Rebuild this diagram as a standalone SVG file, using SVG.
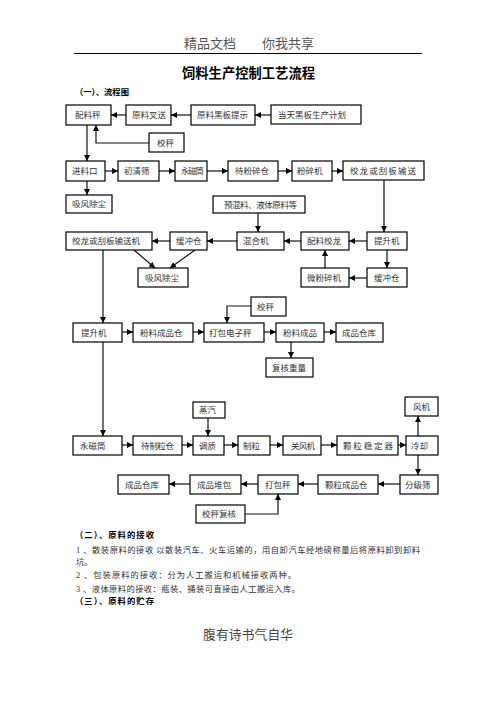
<svg xmlns="http://www.w3.org/2000/svg" width="496" height="702" viewBox="0 0 496 702">
<defs>
<style>
.bx{fill:#fff;stroke:#000;stroke-width:1.2}
.t{font-family:"Noto Sans CJK SC","Liberation Sans",sans-serif;font-size:8.5px;fill:#333}
.c{fill:none;stroke:#111;stroke-width:1.2;marker-end:url(#ah)}
.p{font-family:"Liberation Serif","Noto Sans CJK SC",serif;font-size:8.3px;fill:#333}
.h{font-family:"Noto Sans CJK SC",sans-serif;font-size:8.3px;font-weight:bold;fill:#000}
</style>
<marker id="ah" markerUnits="userSpaceOnUse" markerWidth="7" markerHeight="6" refX="6" refY="3" orient="auto">
<path d="M0,0 L6,3 L0,6 z" fill="#000"/>
</marker>
</defs>
<rect width="496" height="702" fill="#fff"/>

<!-- header -->
<g id="header">
<text x="184" y="47.5" font-family="Noto Sans CJK SC,sans-serif" font-size="13" fill="#555">精品文档</text>
<text x="262" y="47.5" font-family="Noto Sans CJK SC,sans-serif" font-size="13" fill="#555">你我共享</text>
<line x1="74" y1="53.5" x2="422" y2="53.5" stroke="#000" stroke-width="1"/>
<text x="182" y="77.5" font-family="Noto Sans CJK SC,sans-serif" font-size="13.3" font-weight="bold" fill="#000" textLength="133">饲料生产控制工艺流程</text>
<text x="75" y="95.3" class="h">（一）、流程图</text>
</g>

<!-- connectors -->
<g id="connectors">
<path class="c" d="M191,115 H171"/>
<path class="c" d="M271,115 H255"/>
<path class="c" d="M126,115 H111"/>
<path class="c" d="M149,143 H96 V125"/>
<path class="c" d="M87,125 V161"/>
<path class="c" d="M105,171 H118"/>
<path class="c" d="M159,171 H175"/>
<path class="c" d="M207,171 H228"/>
<path class="c" d="M278,171 H292"/>
<path class="c" d="M332,171 H343"/>
<path class="c" d="M87,181 V195"/>
<path class="c" d="M384,180 V232"/>
<path class="c" d="M258,213 V232"/>
<path class="c" d="M367,241 H349"/>
<path class="c" d="M301,241 H284"/>
<path class="c" d="M237,241 H207"/>
<path class="c" d="M170,241 H152"/>
<path class="c" d="M387,250 V268"/>
<path class="c" d="M367,278 H349"/>
<path class="c" d="M325,268 V250"/>
<path class="c" d="M134,250 L155,268"/>
<path class="c" d="M195,250 L170,268"/>
<path class="c" d="M103,250 V323"/>
<path class="c" d="M122,332 H133"/>
<path class="c" d="M193,332 H204"/>
<path class="c" d="M251,306 H227 V323"/>
<path class="c" d="M264,332 H276"/>
<path class="c" d="M324,332 H336"/>
<path class="c" d="M291,342 V358"/>
<path class="c" d="M103,342 V436"/>
<path class="c" d="M208,418 V436"/>
<path class="c" d="M122,445 H133"/>
<path class="c" d="M182,445 H193"/>
<path class="c" d="M224,445 H238"/>
<path class="c" d="M270,445 H283"/>
<path class="c" d="M321,445 H337"/>
<path class="c" d="M398,445 H406"/>
<path class="c" d="M418,436 V416"/>
<path class="c" d="M418,455 V475"/>
<path class="c" d="M400,484 H378"/>
<path class="c" d="M318,484 H298"/>
<path class="c" d="M258,484 H241"/>
<path class="c" d="M190,484 H169"/>
<path class="c" d="M245,514 H278 V494"/>
</g>

<!-- nodes -->
<g id="n-peiliaocheng"><rect class="bx" x="66" y="105" width="45" height="20"/><text class="t" x="75" y="118">配料秤</text></g>
<g id="n-yuanliaochasong"><rect class="bx" x="126" y="105" width="45" height="20"/><text class="t" x="132" y="118">原料叉送</text></g>
<g id="n-heibantishi"><rect class="bx" x="191" y="105" width="64" height="20"/><text class="t" x="197" y="118">原料黑板提示</text></g>
<g id="n-jihua"><rect class="bx" x="271" y="105" width="90" height="19"/><text class="t" x="278" y="117.5">当天黑板生产计划</text></g>
<g id="n-jiaocheng1"><rect class="bx" x="149" y="133" width="35" height="19"/><text class="t" x="157" y="145.5">校秤</text></g>

<g id="n-jinliaokou"><rect class="bx" x="66" y="161" width="39" height="20"/><text class="t" x="72" y="174">进料口</text></g>
<g id="n-chuqingshai"><rect class="bx" x="118" y="161" width="41" height="20"/><text class="t" x="124" y="174">初清筛</text></g>
<g id="n-yongcitong1"><rect class="bx" x="175" y="161" width="32" height="20"/><text class="t" x="181" y="174" textLength="23">永磁筒</text></g>
<g id="n-daifensuicang"><rect class="bx" x="228" y="161" width="50" height="20"/><text class="t" x="235" y="174">待粉碎仓</text></g>
<g id="n-fensuiji"><rect class="bx" x="292" y="161" width="40" height="20"/><text class="t" x="297" y="174">粉碎机</text></g>
<g id="n-jiaolong1"><rect class="bx" x="343" y="161" width="81" height="19"/><text class="t" x="350" y="173.5" textLength="66">绞龙或刮板输送</text></g>
<g id="n-xifeng1"><rect class="bx" x="66" y="195" width="46" height="18"/><text class="t" x="72" y="207">吸风除尘</text></g>
<g id="n-yuhunliao"><rect class="bx" x="213" y="196" width="92" height="17"/><text class="t" x="224" y="207.5" textLength="73">预混料、液体原料等</text></g>

<g id="n-jiaolong2"><rect class="bx" x="66" y="232" width="86" height="18"/><text class="t" x="72" y="244">绞龙或刮板输送机</text></g>
<g id="n-huanchong1"><rect class="bx" x="170" y="232" width="37" height="18"/><text class="t" x="176" y="244">缓冲仓</text></g>
<g id="n-hunheji"><rect class="bx" x="237" y="232" width="47" height="18"/><text class="t" x="243" y="244">混合机</text></g>
<g id="n-peiliaojiaolong"><rect class="bx" x="301" y="232" width="48" height="18"/><text class="t" x="307" y="244">配料绞龙</text></g>
<g id="n-tisheng1"><rect class="bx" x="367" y="232" width="40" height="18"/><text class="t" x="374" y="244">提升机</text></g>
<g id="n-xifeng2"><rect class="bx" x="138" y="268" width="50" height="19"/><text class="t" x="145" y="280.5">吸风除尘</text></g>
<g id="n-weifensui"><rect class="bx" x="301" y="268" width="48" height="19"/><text class="t" x="307" y="280.5">微粉碎机</text></g>
<g id="n-huanchong2"><rect class="bx" x="367" y="268" width="40" height="19"/><text class="t" x="374" y="280.5">缓冲仓</text></g>
<g id="n-jiaocheng2"><rect class="bx" x="251" y="297" width="35" height="19"/><text class="t" x="257" y="309.5">校秤</text></g>

<g id="n-tisheng2"><rect class="bx" x="73" y="323" width="49" height="19"/><text class="t" x="81" y="335.5">提升机</text></g>
<g id="n-fenliaochengpincang"><rect class="bx" x="133" y="323" width="60" height="19"/><text class="t" x="140" y="335.5">粉料成品仓</text></g>
<g id="n-dabaodianzicheng"><rect class="bx" x="204" y="323" width="60" height="19"/><text class="t" x="209" y="335.5">打包电子秤</text></g>
<g id="n-fenliaochengpin"><rect class="bx" x="276" y="323" width="48" height="19"/><text class="t" x="283" y="335.5">粉料成品</text></g>
<g id="n-chengpincangku1"><rect class="bx" x="336" y="323" width="47" height="19"/><text class="t" x="342" y="335.5">成品仓库</text></g>
<g id="n-fuhezhongliang"><rect class="bx" x="266" y="358" width="47" height="19"/><text class="t" x="272" y="370.5">复核重量</text></g>

<g id="n-fengji"><rect class="bx" x="405" y="397" width="33" height="19"/><text class="t" x="413" y="409.5">风机</text></g>
<g id="n-zhengqi"><rect class="bx" x="193" y="402" width="32" height="16"/><text class="t" x="199" y="413">蒸汽</text></g>

<g id="n-yongcitong2"><rect class="bx" x="73" y="436" width="49" height="19"/><text class="t" x="80" y="448.5">永磁筒</text></g>
<g id="n-daizhilicang"><rect class="bx" x="133" y="436" width="49" height="19"/><text class="t" x="141" y="448.5" textLength="33">待制粒仓</text></g>
<g id="n-tiaozhi"><rect class="bx" x="193" y="436" width="31" height="19"/><text class="t" x="199" y="448.5">调质</text></g>
<g id="n-zhili"><rect class="bx" x="238" y="436" width="32" height="19"/><text class="t" x="243" y="448.5">制粒</text></g>
<g id="n-guanfengji"><rect class="bx" x="283" y="436" width="38" height="19"/><text class="t" x="291" y="448.5" textLength="24">关风机</text></g>
<g id="n-wendingqi"><rect class="bx" x="337" y="436" width="61" height="19"/><text class="t" x="343" y="448.5" textLength="50">颗粒稳定器</text></g>
<g id="n-lengque"><rect class="bx" x="406" y="436" width="32" height="19"/><text class="t" x="411" y="448.5">冷却</text></g>

<g id="n-fenjishai"><rect class="bx" x="400" y="475" width="38" height="19"/><text class="t" x="405" y="487.5">分级筛</text></g>
<g id="n-kelichengpincang"><rect class="bx" x="318" y="475" width="60" height="19"/><text class="t" x="325" y="487.5">颗粒成品仓</text></g>
<g id="n-dabaocheng"><rect class="bx" x="258" y="475" width="40" height="19"/><text class="t" x="265" y="487.5">打包秤</text></g>
<g id="n-chengpinduibao"><rect class="bx" x="190" y="475" width="51" height="19"/><text class="t" x="197" y="487.5">成品堆包</text></g>
<g id="n-chengpincangku2"><rect class="bx" x="118" y="475" width="51" height="19"/><text class="t" x="125" y="487.5">成品仓库</text></g>
<g id="n-jiaochengfuhe"><rect class="bx" x="196" y="505" width="49" height="18"/><text class="t" x="202" y="517">校秤复核</text></g>

<!-- body text -->
<g id="body">
<text class="h" x="75" y="538" textLength="79">（二）、原料的接收</text>
<text class="p" x="76" y="552.5" textLength="344">1 、散装原料的接收   以散装汽车、火车运输的，用自卸汽车经地磅称量后将原料卸到卸料</text>
<text class="p" x="76" y="565">坑。</text>
<text class="p" x="76" y="578" textLength="220">2 、包装原料的接收：分为人工搬运和机械接收两种。</text>
<text class="p" x="76" y="591.5" textLength="224">3 、液体原料的接收：瓶装、捅装可直接由人工搬运入库。</text>
<text class="h" x="75" y="604" textLength="79">（三）、原料的贮存</text>
</g>

<g id="footer">
<text x="203" y="638.5" font-family="Noto Sans CJK SC,sans-serif" font-size="12.7" fill="#444" textLength="90">腹有诗书气自华</text>
</g>
</svg>
